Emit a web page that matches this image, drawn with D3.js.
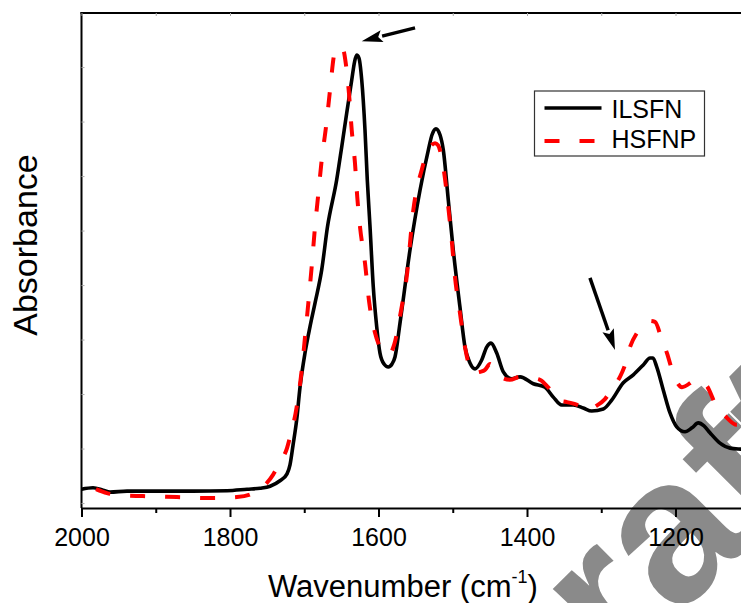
<!DOCTYPE html>
<html>
<head>
<meta charset="utf-8">
<script src="https://cdn.jsdelivr.net/npm/d3@7"></script>
<style>
  body { margin: 0; background: #fff; }
  svg { display: block; font-family: Arial, "Liberation Sans", sans-serif; }
</style>
</head>
<body>
<div class="container"></div>
<script>
// ILSFN spectrum (wavenumber, absorbance a.u.)
const wnILSFN = [2000, 1984.5, 1971, 1961.6, 1938.7, 1894.3, 1849.8, 1804, 1777, 1759.6, 1746, 1732.7, 1723.2, 1719.2, 1715.1, 1710.2, 1705.7, 1699, 1692.3, 1685.5, 1676.5, 1668.7, 1656.3, 1649.6, 1642.8, 1636, 1632.3, 1629.4, 1626.3, 1622.6, 1618.2, 1615.1, 1611.4, 1607, 1602.4, 1598, 1592.6, 1586.8, 1581.8, 1577.8, 1571, 1557.6, 1544.1, 1532.9, 1527.9, 1522.6, 1517.2, 1512.7, 1506, 1499.3, 1490.3, 1483.5, 1476.8, 1470, 1461, 1454.3, 1448.5, 1440.8, 1431.9, 1420.6, 1409.4, 1391.5, 1375.8, 1364.6, 1353.3, 1337.6, 1324.2, 1312.9, 1297.2, 1285.9, 1270.3, 1256.8, 1243.4, 1234.3, 1230.3, 1225.3, 1216.4, 1207.4, 1198.4, 1187.2, 1177.8, 1169.3, 1161.6, 1153.6, 1140.1, 1126.6, 1111.8, 1100];
const absILSFN = [0.038, 0.041, 0.036, 0.032, 0.034, 0.034, 0.034, 0.035, 0.038, 0.040, 0.044, 0.055, 0.069, 0.087, 0.127, 0.178, 0.244, 0.313, 0.366, 0.414, 0.481, 0.568, 0.663, 0.729, 0.798, 0.865, 0.901, 0.915, 0.909, 0.865, 0.764, 0.663, 0.568, 0.446, 0.366, 0.313, 0.291, 0.285, 0.291, 0.305, 0.374, 0.521, 0.642, 0.723, 0.754, 0.766, 0.754, 0.723, 0.622, 0.521, 0.406, 0.325, 0.293, 0.281, 0.299, 0.325, 0.333, 0.313, 0.275, 0.261, 0.265, 0.251, 0.244, 0.224, 0.208, 0.208, 0.202, 0.196, 0.200, 0.218, 0.253, 0.269, 0.289, 0.303, 0.303, 0.285, 0.238, 0.192, 0.164, 0.154, 0.162, 0.172, 0.166, 0.152, 0.131, 0.121, 0.119, 0.118];

// HSFNP spectrum
const wnHSFNP = [1980.5, 1965.7, 1948.1, 1917.2, 1871.4, 1826.9, 1790.6, 1773, 1763.6, 1750.2, 1742.1, 1732.7, 1723.2, 1719.2, 1710.2, 1703.4, 1699, 1694.5, 1690, 1685.5, 1681.5, 1676.5, 1670.7, 1665.3, 1659.9, 1655.9, 1651.9, 1647.4, 1643.8, 1639.8, 1636.1, 1631.7, 1628.6, 1624.9, 1618.2, 1612.4, 1604.7, 1600.3, 1592.6, 1584.5, 1579.1, 1568.8, 1562, 1553.1, 1541.8, 1530.6, 1523.9, 1519.9, 1512.7, 1506, 1501.4, 1497, 1490.3, 1483.5, 1478.1, 1472.3, 1463.3, 1456.6, 1449.8, 1441.8, 1433.7, 1422.9, 1409.4, 1396, 1382.5, 1371.7, 1358.3, 1346.1, 1331.3, 1317.9, 1307.1, 1295, 1284.2, 1274.8, 1268, 1261.3, 1251.8, 1241.1, 1234.3, 1227.6, 1218.2, 1211.5, 1203.4, 1191.3, 1171.1, 1157.6, 1144.5, 1133.3, 1117.6, 1100];
const absHSFNP = [0.038, 0.030, 0.026, 0.024, 0.022, 0.020, 0.022, 0.027, 0.034, 0.051, 0.067, 0.093, 0.121, 0.143, 0.204, 0.279, 0.345, 0.414, 0.487, 0.568, 0.628, 0.703, 0.770, 0.844, 0.915, 0.931, 0.929, 0.925, 0.895, 0.838, 0.764, 0.697, 0.628, 0.568, 0.495, 0.414, 0.354, 0.333, 0.313, 0.313, 0.329, 0.406, 0.467, 0.602, 0.683, 0.729, 0.737, 0.733, 0.689, 0.608, 0.541, 0.467, 0.394, 0.325, 0.289, 0.273, 0.275, 0.279, 0.291, 0.275, 0.263, 0.259, 0.265, 0.263, 0.259, 0.244, 0.218, 0.214, 0.208, 0.198, 0.206, 0.220, 0.244, 0.265, 0.289, 0.325, 0.354, 0.370, 0.378, 0.376, 0.339, 0.313, 0.273, 0.244, 0.259, 0.246, 0.204, 0.186, 0.168, 0.168];

const seriesNames = ["ILSFN", "HSFNP"];
const majorTicks = [2000, 1800, 1600, 1400, 1200];
const minorTicks = [1900, 1700, 1500, 1300];
// arrows: [tail wn, tail abs, tip wn, tip abs]
const arrows = [[1550.8, 0.970, 1622.6, 0.943], [1315.2, 0.465, 1281.5, 0.319]];

const W = 741, H = 603;
const mLeft = 81.5, mTop = 13, mBottom = 508;

const svg = d3.select(".container").append("svg")
  .attr("width", W).attr("height", H);

const x = d3.scaleLinear().domain([2000, 1100]).range([mLeft, mLeft + 900 * 148.5 / 200]);
const y = d3.scaleLinear().domain([0, 1]).range([mBottom, mTop]);

// watermark, behind everything
svg.append("text")
  .attr("transform", "translate(515,780) rotate(-45)")
  .attr("font-size", 205)
  .attr("font-weight", "bold")
  .attr("fill", "#8a8a8a")
  .text("Draft");

const lineGen = d3.line()
  .x(d => x(d[0])).y(d => y(d[1]))
  .curve(d3.curveMonotoneX);

const black = d3.zip(wnILSFN, absILSFN);
const red = d3.zip(wnHSFNP, absHSFNP);

svg.append("path").datum(black)
  .attr("d", lineGen)
  .attr("fill", "none").attr("stroke", "#000").attr("stroke-width", 3.6)
  .attr("stroke-linejoin", "round");

svg.append("path").datum(red)
  .attr("d", lineGen)
  .attr("fill", "none").attr("stroke", "#ff0000").attr("stroke-width", 4)
  .attr("stroke-dasharray", "15,20");

// frame
svg.append("line").attr("x1", mLeft).attr("x2", mLeft).attr("y1", mTop - 1).attr("y2", mBottom)
  .attr("stroke", "#000").attr("stroke-width", 2);
svg.append("line").attr("x1", mLeft - 1).attr("x2", W).attr("y1", mTop).attr("y2", mTop)
  .attr("stroke", "#000").attr("stroke-width", 2);

// tiny inward ticks on top and left
svg.append("g").attr("transform", `translate(0,${mTop})`)
  .call(d3.axisTop(x).tickValues(majorTicks.concat(minorTicks)).tickSize(-3).tickFormat(""))
  .call(g => g.select(".domain").remove())
  .call(g => g.selectAll("line").attr("stroke", "#aaa"));
svg.append("g").attr("transform", `translate(${mLeft},0)`)
  .call(d3.axisLeft(y).tickValues(d3.range(0.01, 0.95, 0.1101)).tickSize(-3).tickFormat(""))
  .call(g => g.select(".domain").remove())
  .call(g => g.selectAll("line").attr("stroke", "#aaa"));

// bottom axis
const xAxis = svg.append("g").attr("transform", `translate(0,${mBottom})`)
  .call(d3.axisBottom(x).tickValues(majorTicks).tickSize(9).tickPadding(11)
    .tickSizeOuter(0).tickFormat(d3.format("d")));
xAxis.select(".domain").attr("stroke-width", 2).attr("d", `M${mLeft},0.5H${W}`);
xAxis.selectAll(".tick line").attr("stroke-width", 2);
xAxis.selectAll(".tick text").attr("font-size", 25).attr("font-family", "Arial, 'Liberation Sans', sans-serif").attr("fill", "#000");

svg.append("g").attr("transform", `translate(0,${mBottom})`)
  .call(d3.axisBottom(x).tickValues(minorTicks).tickSize(5).tickFormat(""))
  .call(g => g.select(".domain").remove())
  .call(g => g.selectAll("line").attr("stroke-width", 2));

// axis titles
const xt = svg.append("text").attr("x", 268).attr("y", 597).attr("font-size", 31);
xt.append("tspan").text("Wavenumber (cm");
xt.append("tspan").attr("font-size", 18).attr("dy", -14).text("-1");
xt.append("tspan").attr("dy", 14).text(")");

svg.append("text")
  .attr("transform", "translate(37,245) rotate(-90)")
  .attr("text-anchor", "middle")
  .attr("font-size", 34)
  .text("Absorbance");

// arrows
function drawArrow(a) {
  const x0 = x(a[0]), y0 = y(a[1]), x1 = x(a[2]), y1 = y(a[3]);
  const ang = Math.atan2(y1 - y0, x1 - x0);
  const hl = 21, hw = 6;
  const bx = x1 - hl * Math.cos(ang), by = y1 - hl * Math.sin(ang);
  svg.append("line").attr("x1", x0).attr("y1", y0).attr("x2", bx).attr("y2", by)
    .attr("stroke", "#000").attr("stroke-width", 3.5);
  const px = -Math.sin(ang) * hw, py = Math.cos(ang) * hw;
  svg.append("path")
    .attr("d", `M${x1},${y1}L${bx + px},${by + py}L${bx + 4 * Math.cos(ang)},${by + 4 * Math.sin(ang)}L${bx - px},${by - py}Z`)
    .attr("fill", "#000");
}
arrows.forEach(drawArrow);

// legend
const lg = svg.append("g").attr("transform", "translate(534.5,91)");
lg.append("rect").attr("width", 170).attr("height", 65)
  .attr("fill", "#fff").attr("stroke", "#333").attr("stroke-width", 1.2);
lg.append("line").attr("x1", 10).attr("x2", 67).attr("y1", 17).attr("y2", 17)
  .attr("stroke", "#000").attr("stroke-width", 3.6);
lg.append("line").attr("x1", 10).attr("x2", 67).attr("y1", 50).attr("y2", 50)
  .attr("stroke", "#ff0000").attr("stroke-width", 4).attr("stroke-dasharray", "15,20");
lg.selectAll("text.lab").data(seriesNames).enter().append("text")
  .attr("class", "lab")
  .attr("x", 77).attr("y", (d, i) => 27 + i * 30)
  .attr("font-size", 25)
  .text(d => d);
</script>
</body>
</html>
